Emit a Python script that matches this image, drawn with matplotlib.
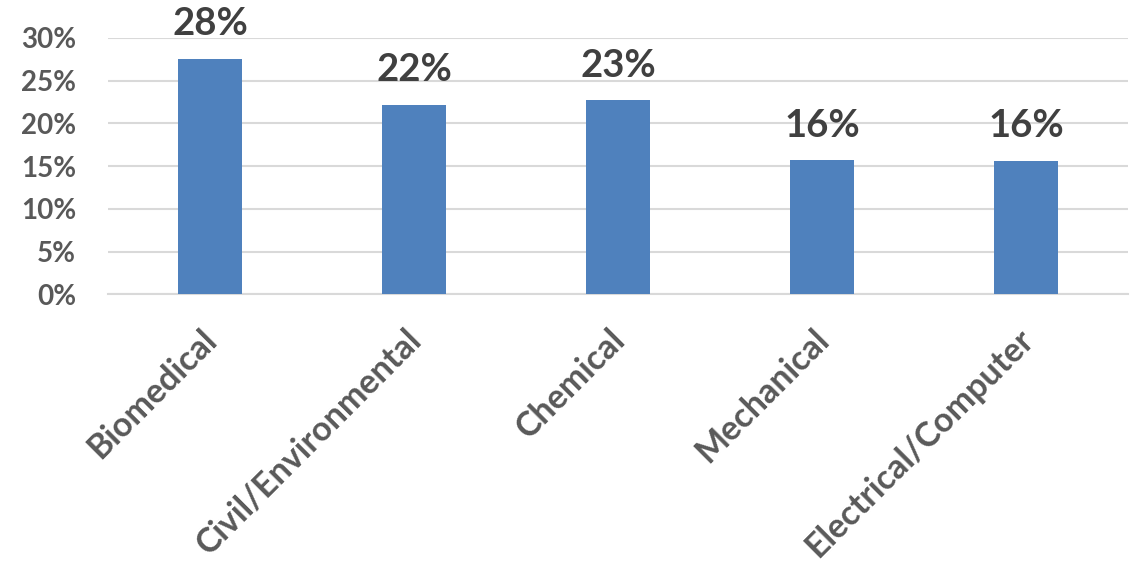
import matplotlib.pyplot as plt
import matplotlib.transforms as mtransforms
from matplotlib.ticker import FuncFormatter

categories = ['Biomedical', 'Civil/Environmental', 'Chemical', 'Mechanical', 'Electrical/Computer']
values = [0.276, 0.222, 0.227, 0.157, 0.156]
labels = ['28%', '22%', '23%', '16%', '16%']
yticks = [0, 0.05, 0.10, 0.15, 0.20, 0.25, 0.30]

plt.rcParams['font.family'] = ['Lato', 'DejaVu Sans']
plt.rcParams['font.weight'] = 'bold'

fig = plt.figure(figsize=(11.37, 5.63), dpi=100)
ax = fig.add_axes([108 / 1137, 1 - 294.3 / 563, 1020 / 1137, 256.3 / 563])

x = range(len(categories))
bars = ax.bar(x, values, width=0.312, color='#4F81BD', zorder=3)

for xi, v, lab in zip(x, values, labels):
    ax.annotate(lab, (xi, v), xytext=(0, 17), textcoords='offset points',
                ha='center', va='baseline', fontsize=27.5, fontweight='bold',
                color='#404040', annotation_clip=False)

ax.set_xlim(-0.5, 4.5)
ax.set_ylim(0, 0.30)
ax.set_yticks(yticks)
ax.yaxis.set_major_formatter(FuncFormatter(lambda v, p: f'{v * 100:.0f}%'))
ax.grid(axis='y', color='#D9D9D9', linewidth=1.5, zorder=0)
for s in ['top', 'right', 'left']:
    ax.spines[s].set_visible(False)
ax.spines['bottom'].set_color('#D9D9D9')
ax.spines['bottom'].set_linewidth(1.5)
ax.tick_params(axis='both', length=0, labelcolor='#595959')
ax.tick_params(axis='y', pad=23, labelsize=20)

ax.set_xticks(list(x))
ax.set_xticklabels(categories, rotation=45, ha='right', va='center',
                   rotation_mode='anchor', fontsize=24.5, fontweight='bold')
ax.tick_params(axis='x', pad=29)
offset = mtransforms.ScaledTranslation(2 / 100, 0, fig.dpi_scale_trans)
for t in ax.get_xticklabels():
    t.set_transform(t.get_transform() + offset)

fig.savefig('out.png', dpi=100)
